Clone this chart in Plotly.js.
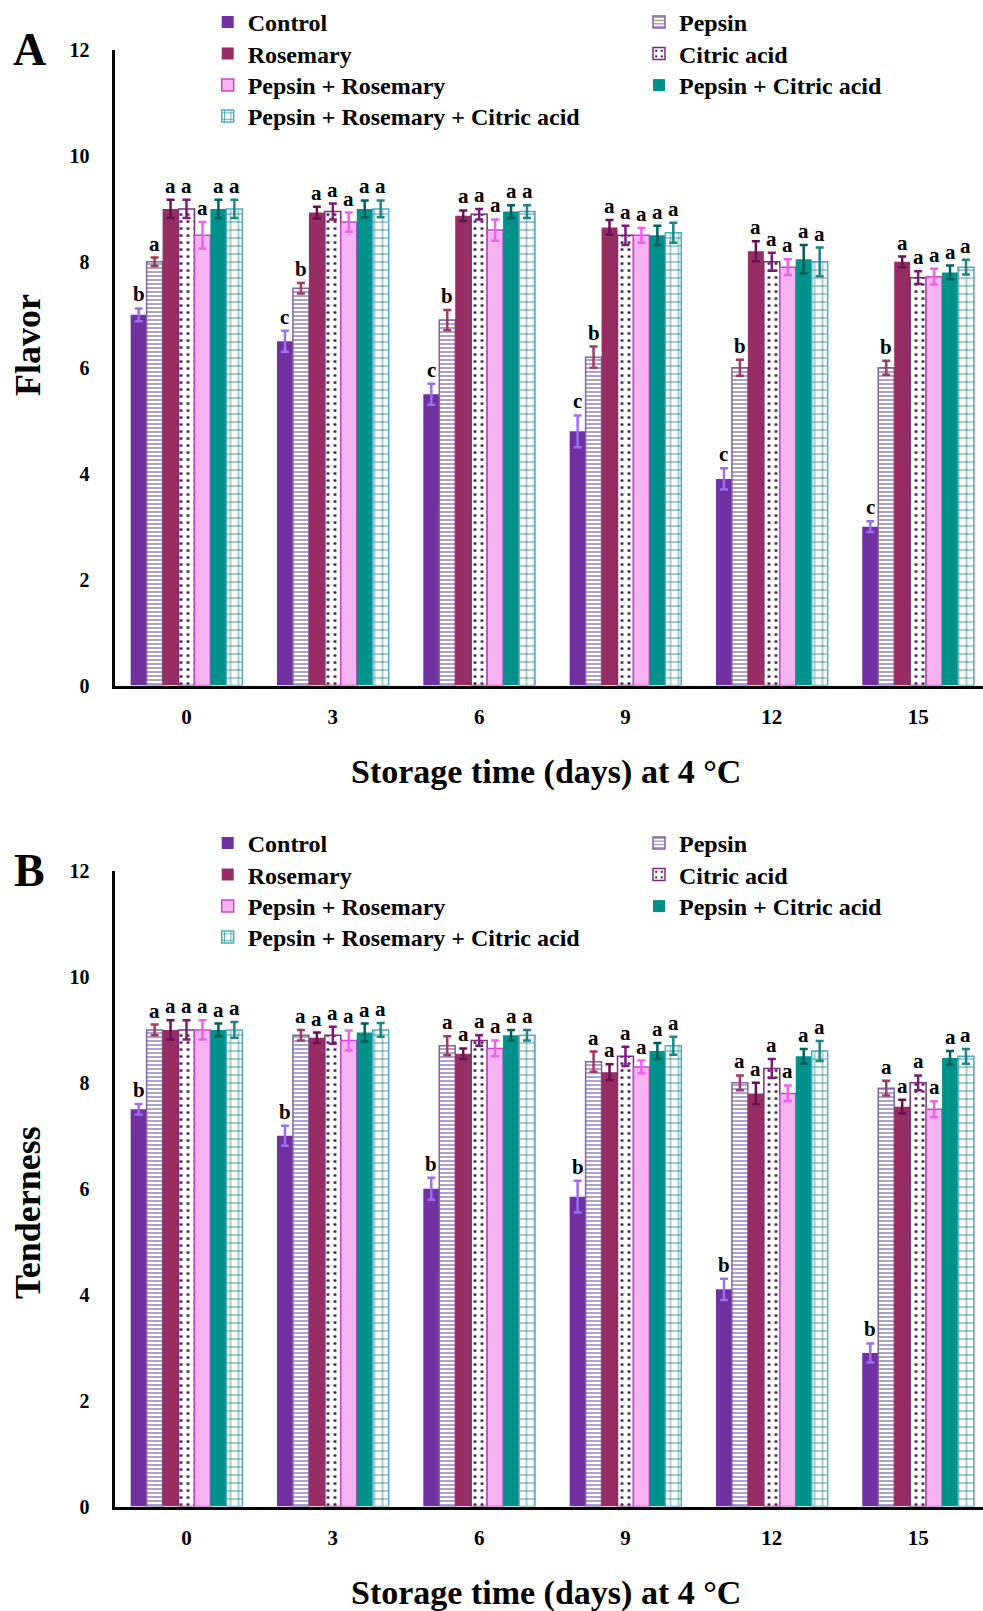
<!DOCTYPE html>
<html><head><meta charset="utf-8">
<script src="https://cdn.plot.ly/plotly-3.0.1.min.js"></script>
<style>html,body{margin:0;padding:0;background:#fff}</style>
</head><body><div id="chart" style="width:983px;height:1611px"></div>
<script>
// ---------- data ----------
const days = [0, 3, 6, 9, 12, 15];
const dayLabels = ['0', '3', '6', '9', '12', '15'];
const treatments = ['Control', 'Pepsin', 'Rosemary', 'Citric acid', 'Pepsin + Rosemary', 'Pepsin + Citric acid', 'Pepsin + Rosemary + Citric acid'];

// Flavor means
const flavorControl  = [7.0, 6.5, 5.5, 4.8, 3.9, 3.0];
const flavorPepsin   = [8.0, 7.5, 6.9, 6.2, 6.0, 6.0];
const flavorRosemary = [9.0, 8.93, 8.87, 8.65, 8.2, 8.0];
const flavorCitric   = [9.0, 8.95, 8.9, 8.5, 8.0, 7.7];
const flavorPR       = [8.5, 8.75, 8.6, 8.5, 7.9, 7.72];
const flavorPCA      = [9.0, 9.0, 8.95, 8.5, 8.05, 7.8];
const flavorPRC      = [9.0, 9.0, 8.95, 8.55, 8.0, 7.9];
// Flavor error (SD)
const flavorControlErr  = [0.12, 0.2, 0.2, 0.3, 0.2, 0.1];
const flavorPepsinErr   = [0.08, 0.1, 0.19, 0.2, 0.15, 0.13];
const flavorRosemaryErr = [0.17, 0.11, 0.1, 0.14, 0.19, 0.1];
const flavorCitricErr   = [0.17, 0.15, 0.1, 0.18, 0.17, 0.12];
const flavorPRErr       = [0.25, 0.18, 0.2, 0.14, 0.15, 0.15];
const flavorPCAErr      = [0.17, 0.16, 0.12, 0.18, 0.27, 0.13];
const flavorPRCErr      = [0.17, 0.16, 0.12, 0.19, 0.27, 0.14];
// Flavor significance letters
const flavorControlLet  = ['b', 'c', 'c', 'c', 'c', 'c'];
const flavorPepsinLet   = ['a', 'b', 'b', 'b', 'b', 'b'];
const flavorOtherLet    = ['a', 'a', 'a', 'a', 'a', 'a'];

// Tenderness means
const tendControl  = [7.5, 7.0, 6.0, 5.85, 4.1, 2.9];
const tendPepsin   = [9.0, 8.9, 8.7, 8.4, 8.0, 7.9];
const tendRosemary = [9.0, 8.85, 8.55, 8.2, 7.8, 7.55];
const tendCitric   = [9.0, 8.9, 8.8, 8.5, 8.27, 8.0];
const tendPR       = [9.0, 8.8, 8.65, 8.3, 7.8, 7.5];
const tendPCA      = [9.0, 8.95, 8.9, 8.6, 8.5, 8.47];
const tendPRC      = [9.0, 9.0, 8.9, 8.7, 8.6, 8.5];
// Tenderness error (SD)
const tendControlErr  = [0.1, 0.19, 0.21, 0.3, 0.2, 0.18];
const tendPepsinErr   = [0.1, 0.1, 0.18, 0.19, 0.14, 0.14];
const tendRosemaryErr = [0.18, 0.1, 0.1, 0.15, 0.2, 0.13];
const tendCitricErr   = [0.18, 0.16, 0.1, 0.18, 0.18, 0.14];
const tendPRErr       = [0.18, 0.19, 0.15, 0.12, 0.15, 0.15];
const tendPCAErr      = [0.12, 0.17, 0.1, 0.15, 0.14, 0.13];
const tendPRCErr      = [0.15, 0.13, 0.1, 0.17, 0.19, 0.14];
// Tenderness significance letters
const tendControlLet = ['b', 'b', 'b', 'b', 'b', 'b'];
const tendOtherLet   = ['a', 'a', 'a', 'a', 'a', 'a'];

const xTitle = 'Storage time (days) at 4 °C';
const yTitleA = 'Flavor';
const yTitleB = 'Tenderness';

// ---------- styling ----------
const W = 983, H = 1611;
const FONT = 'Liberation Serif, Times New Roman, serif';
const BARGAP = 0.237;
const styles = [
  {color: '#7030A0', line: '#7030A0', lw: 0, err: '#9B6FEF'},
  {color: '#FFFFFF', line: '#8064A2', lw: 1.5, err: '#A03A5E',
   pattern: {shape: '-', fgcolor: '#8A78B8', bgcolor: '#FFFFFF', size: 4, solidity: 0.35}},
  {color: '#962D63', line: '#962D63', lw: 0, err: '#66104F'},
  {color: '#FFFFFF', line: '#7B2C7B', lw: 1.5, err: '#7A1A7A',
   pattern: {shape: '.', fgcolor: '#4A2050', bgcolor: '#FFFFFF', size: 7, solidity: 0.15}},
  {color: '#F5B3F2', line: '#CC45CC', lw: 1.5, err: '#F060F0'},
  {color: '#00928A', line: '#00928A', lw: 0, err: '#005F5A'},
  {color: '#FFFFFF', line: '#4BACC6', lw: 1.5, err: '#1D8585',
   pattern: {shape: '+', fgcolor: '#21918C', bgcolor: '#FFFFFF', size: 8, solidity: 0.2}}
];

const panels = [
  {xa: 'x', ya: 'y', dy: 0,
   means: [flavorControl, flavorPepsin, flavorRosemary, flavorCitric, flavorPR, flavorPCA, flavorPRC],
   errs: [flavorControlErr, flavorPepsinErr, flavorRosemaryErr, flavorCitricErr, flavorPRErr, flavorPCAErr, flavorPRCErr],
   lets: [flavorControlLet, flavorPepsinLet, flavorOtherLet, flavorOtherLet, flavorOtherLet, flavorOtherLet, flavorOtherLet]},
  {xa: 'x2', ya: 'y2', dy: 821,
   means: [tendControl, tendPepsin, tendRosemary, tendCitric, tendPR, tendPCA, tendPRC],
   errs: [tendControlErr, tendPepsinErr, tendRosemaryErr, tendCitricErr, tendPRErr, tendPCAErr, tendPRCErr],
   lets: [tendControlLet, tendOtherLet, tendOtherLet, tendOtherLet, tendOtherLet, tendOtherLet, tendOtherLet]}
];

const py = p => 1 - p / H;
const px = p => p / W;

const traces = [];
const annotations = [];
const layout = {
  width: W, height: H,
  margin: {l: 0, r: 0, t: 0, b: 0, autoexpand: false},
  paper_bgcolor: '#FFFFFF', plot_bgcolor: '#FFFFFF',
  barmode: 'group', bargap: BARGAP, bargroupgap: 0,
  font: {family: FONT, size: 20, color: '#000000', weight: 'bold'},
  showlegend: true
};

// legend slots (text-left x, baseline y) for panel A
const legCols = [246.7, 678];
const legRows = [31.3, 63, 94.5, 125.5];
const legPos = [[0, 0], [1, 0], [0, 1], [1, 1], [0, 2], [1, 2], [0, 3]];

const groupW = 3 * (1 - BARGAP);
const barW = groupW / 7;

panels.forEach((p, pi) => {
  const top = 50 + p.dy, bottom = 685.5 + p.dy;
  const xKey = pi === 0 ? 'xaxis' : 'xaxis2';
  const yKey = pi === 0 ? 'yaxis' : 'yaxis2';
  layout[xKey] = {
    domain: [px(114.5), 1], range: [-1.476, 16.33], anchor: p.ya,
    tickmode: 'array', tickvals: days, ticktext: dayLabels,
    showline: true, linewidth: 3, linecolor: '#000000', ticks: '',
    showgrid: false, zeroline: false, ticklabelstandoff: 10,
    tickfont: {family: FONT, size: 21, color: '#000000', weight: 'bold'}
  };
  layout[yKey] = {
    domain: [py(bottom), py(top)], range: [0, 12], anchor: p.xa,
    tickmode: 'linear', tick0: 0, dtick: 2,
    showline: true, linewidth: 3, linecolor: '#000000', ticks: '',
    showgrid: false, zeroline: false, ticklabelstandoff: 18,
    tickfont: {family: FONT, size: 20, color: '#000000', weight: 'bold'}
  };
  treatments.forEach((name, i) => {
    const st = styles[i];
    const legName = 'legend' + ((pi * 7 + i) === 0 ? '' : (pi * 7 + i + 1));
    const marker = {color: st.color, line: {color: st.line, width: st.lw}};
    if (st.pattern) marker.pattern = Object.assign({fillmode: 'replace'}, st.pattern);
    traces.push({
      type: 'bar', name: name, x: days, y: p.means[i],
      xaxis: p.xa, yaxis: p.ya, legend: legName,
      marker: marker,
      error_y: {type: 'data', array: p.errs[i], visible: true, color: st.err, thickness: 2.5, width: 4},
      hoverinfo: 'x+y+name'
    });
    const [c, r] = legPos[i];
    const textLeft = legCols[c] + 1, base = legRows[r] + p.dy;
    layout[legName] = {
      x: px(textLeft - 40), y: Math.min(1, py(base - 31.5)), xanchor: 'left', yanchor: 'top',
      bgcolor: 'rgba(0,0,0,0)', borderwidth: 0, orientation: 'v',
      font: {family: FONT, size: 24, color: '#000000', weight: 'bold'}
    };
    const off = -groupW / 2 + barW * (i + 0.5);
    days.forEach((d, k) => {
      annotations.push({
        xref: p.xa, yref: p.ya, x: d + off, y: p.means[i][k] + p.errs[i][k],
        text: p.lets[i][k], showarrow: false, yanchor: 'bottom', xanchor: 'center', yshift: 0,
        font: {family: FONT, size: 21, color: '#000000', weight: 'bold'}
      });
    });
  });
  // axis titles and panel letters
  annotations.push({xref: 'paper', yref: 'paper', x: px(546), y: py(772 + p.dy), text: xTitle,
    showarrow: false, xanchor: 'center', yanchor: 'middle',
    font: {family: FONT, size: 34, color: '#000000', weight: 'bold'}});
  annotations.push({xref: 'paper', yref: 'paper', x: px(28), y: py(pi === 0 ? 345 : 1213),
    text: pi === 0 ? yTitleA : yTitleB, textangle: -90,
    showarrow: false, xanchor: 'center', yanchor: 'middle',
    font: {family: FONT, size: 36, color: '#000000', weight: 'bold'}});
  annotations.push({xref: 'paper', yref: 'paper', x: px(29), y: py(49 + p.dy), text: pi === 0 ? 'A' : 'B',
    showarrow: false, xanchor: 'center', yanchor: 'middle',
    font: {family: FONT, size: 46, color: '#000000', weight: 'bold'}});
});

layout.annotations = annotations;
Plotly.newPlot('chart', traces, layout, {staticPlot: true, displayModeBar: false});
</script></body></html>
